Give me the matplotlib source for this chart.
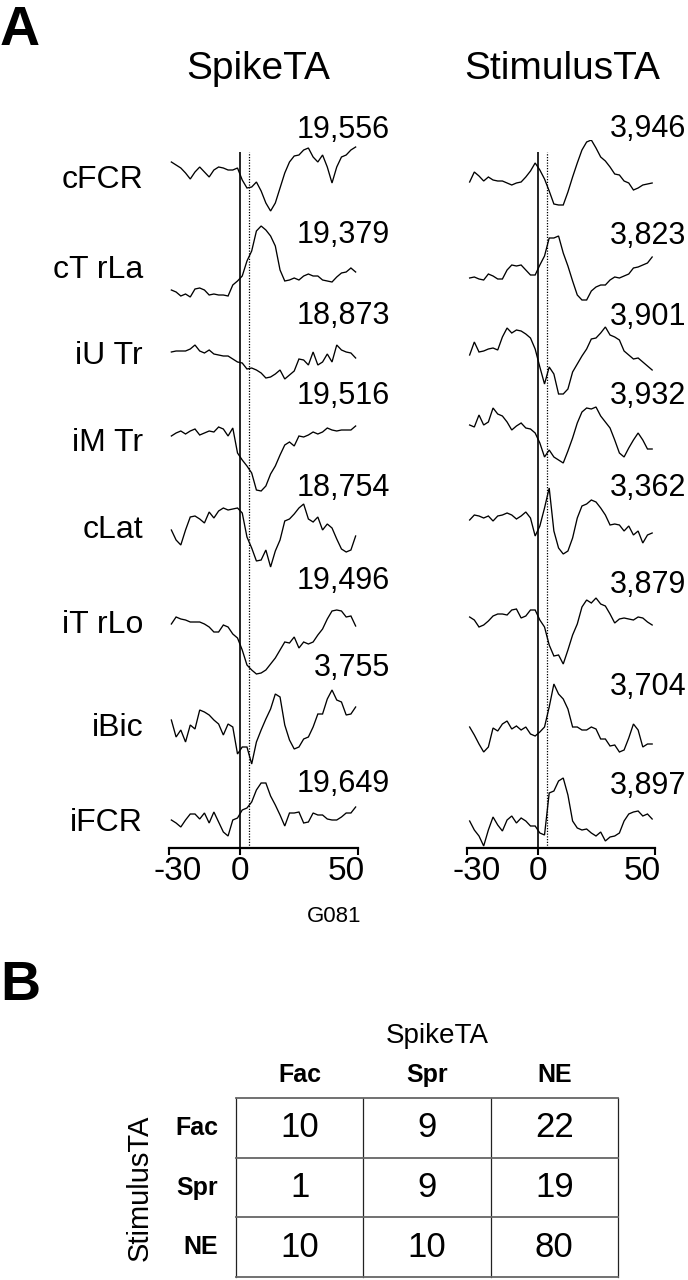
import numpy as np
import matplotlib
matplotlib.use('Agg')
import matplotlib.pyplot as plt
from matplotlib.transforms import ScaledTranslation

plt.rcParams['font.family'] = ['Liberation Sans', 'DejaVu Sans']

# ---------------- data ----------------
muscles = ['cFCR', 'cT rLa', 'iU Tr', 'iM Tr', 'cLat', 'iT rLo', 'iBic', 'iFCR']
spike_counts = ['19,556', '19,379', '18,873', '19,516', '18,754', '19,496', '3,755', '19,649']
stim_counts = ['3,946', '3,823', '3,901', '3,932', '3,362', '3,879', '3,704', '3,897']
time_ms = np.arange(-29, 50, 2)
xticks = [-30, 0, 50]
xtick_labels = ['-30', '0', '50']
onset_ms = 0
latency_ms = 4

# SpikeTA traces (amplitude, arbitrary units)
spike_cFCR = [8, 5, 2, -3, -9, -2, 3, -2, -7, 0, 3, 2, 0, 0, 2, -10, -18, -17, -12, -21,
              -33, -41, -33, -18, -3, 8, 14, 15, 20, 22, 13, 8, 15, 3, -13, 3, 13, 15, 20, 23]
spike_cTrLa = [3, 1, -3, -1, -4, 4, 5, 3, -2, -1, -2, -2, -3, 8, 12, 17, 32, 42, 62, 67,
               63, 57, 47, 23, 12, 13, 15, 13, 17, 19, 17, 17, 13, 12, 11, 16, 20, 21, 25, 21]
spike_iUTr = [0, 1, 1, 1, 3, 7, 1, -1, 2, -2, -3, -4, -4, -7, -10, -11, -17, -16, -18, -21,
              -26, -25, -22, -18, -27, -23, -19, -7, -8, -13, 0, -13, -10, -2, -10, 7, 2, 0, -1, -6]
spike_iMTr = [-3, 0, 2, -1, 2, 4, -2, 0, 2, 1, 6, 4, -3, 5, -20, -27, -33, -40, -57, -58,
              -53, -41, -33, -22, -12, -9, -13, -3, -4, -2, 1, -1, 1, 5, 3, 2, 3, 3, 3, 7]
spike_cLat = [-3, -13, -18, -3, 10, 11, 8, 4, 15, 9, 16, 19, 17, 18, 19, 14, -10, -21, -34, -33,
              -23, -40, -24, -13, 6, 8, 13, 19, 23, 8, 5, 10, -3, 3, -1, -12, -22, -25, -23, -9]
spike_iTrLo = [-2, 5, 3, 2, 0, 0, 0, -2, -5, -10, -10, -3, -5, -12, -16, -28, -43, -48, -52, -51,
               -48, -42, -36, -28, -20, -21, -15, -26, -20, -22, -20, -13, -7, 3, 11, 12, 11, 5, 6, -4]
spike_iBic = [7, -10, -3, -15, 2, -2, 17, 15, 12, 7, 3, -8, 3, 0, -27, -20, -20, -37, -15, -3,
              8, 18, 33, 30, 2, -13, -22, -20, -12, -10, 0, 13, 13, 28, 37, 27, 25, 12, 13, 20]
spike_iFCR = [0, -3, -7, 0, 6, 6, 1, 7, -3, 8, -2, -12, -16, 0, 2, 10, 12, 18, 30, 37,
              37, 24, 15, 5, -6, 7, 7, 8, -3, -2, 7, 5, 5, 1, 0, 0, 3, 7, 7, 13]

# StimulusTA traces
stim_cFCR = [-2, 8, 4, -1, 3, 0, -1, -1, -3, -5, -3, -2, 3, 9, 17, 10, 1, -11, -24, -25,
             -25, -12, 3, 17, 30, 38, 40, 32, 23, 19, 13, 6, 5, -1, -3, -10, -8, -5, -4, -3]
stim_cTrLa = [0, 1, -1, -2, 4, 2, -1, -1, 8, 13, 12, 13, 8, 3, 3, 13, 22, 40, 40, 42,
              25, 12, -3, -17, -22, -22, -13, -9, -7, -7, -2, 1, 0, 2, 4, 10, 11, 13, 15, 21]
stim_iUTr = [-3, 10, 0, 1, 3, 4, 2, 15, 24, 19, 22, 21, 18, 14, 3, -15, -32, -15, -22, -42,
             -42, -37, -20, -12, -4, 3, 13, 14, 19, 25, 17, 15, 12, 1, -3, -7, -6, -10, -14, -18]
stim_iMTr = [0, -2, 10, 0, 3, 17, 11, 9, 3, -5, -1, 2, -3, -4, -8, -18, -32, -25, -32, -35,
             -38, -26, -13, 2, 13, 17, 16, 18, 9, 3, -3, -15, -28, -32, -23, -15, -8, -15, -24, -24]
stim_cLat = [-2, 3, 2, 0, 2, -3, 2, 3, 5, 3, -1, 2, 6, 0, -18, -8, 10, 30, -13, -30,
             -36, -33, -20, 0, 12, 14, 18, 16, 10, 3, -7, -6, -7, -13, -8, -17, -13, -25, -17, -15]
stim_iTrLo = [0, -3, -10, -8, -4, 1, 3, 3, 2, 7, 8, -1, 1, 7, 7, -3, -10, -28, -39, -38,
              -47, -33, -18, -7, 10, 17, 14, 19, 13, 11, 3, -6, -2, -1, -2, -3, 0, -1, -5, -8]
stim_iBic = [5, -3, -12, -20, -15, 4, 1, 8, 11, 3, 6, 2, 5, -2, -4, 0, 5, 25, 48, 38,
             33, 23, 5, 5, 2, 2, 5, 3, -7, -7, -14, -13, -20, -18, -6, 8, 2, -15, -12, -12]
stim_iFCR = [2, -7, -13, -23, -7, 6, -2, -8, 3, 7, 0, 5, 2, -3, -3, -10, -12, 30, 32, 42,
             45, 28, 2, -5, -7, -6, -10, -13, -9, -18, -14, -13, -10, 2, 9, 11, 12, 7, 9, 4]

spike_traces = [spike_cFCR, spike_cTrLa, spike_iUTr, spike_iMTr,
                spike_cLat, spike_iTrLo, spike_iBic, spike_iFCR]
stim_traces = [stim_cFCR, stim_cTrLa, stim_iUTr, stim_iMTr,
               stim_cLat, stim_iTrLo, stim_iBic, stim_iFCR]

# Table B
table_cols = ['Fac', 'Spr', 'NE']
table_rows = ['Fac', 'Spr', 'NE']
table_vals = [[10, 9, 22],
              [1, 9, 19],
              [10, 10, 80]]

# ---------------- layout (pixels) ----------------
W, H = 688, 1280
AX_TOP, AX_BOT = 140, 848
left_base = [170, 293, 352, 433, 527, 622, 727, 820]
right_base = [180, 278, 352, 425, 518, 617, 732, 823]
label_baseline = [188, 278, 364, 451, 538, 633, 736, 831]
spike_num_baseline = [138, 243, 324, 404, 496, 589, 676, 792]
stim_num_baseline = [137, 244, 325, 404, 496, 593, 695, 794]

fig = plt.figure(figsize=(W / 100, H / 100), dpi=100)


def fx(px):
    return px / W


def fy(py):
    return 1 - py / H


def px_axes(x0, x1, y0, y1):
    return fig.add_axes([x0 / W, 1 - y1 / H, (x1 - x0) / W, (y1 - y0) / H])


def trace_panel(x0, x1, traces, bases):
    ax = px_axes(x0, x1, AX_TOP, AX_BOT)
    ax.set_xlim(-30, 50)
    ax.set_ylim(0, AX_BOT - AX_TOP)
    ax.patch.set_visible(False)
    for s in ['top', 'right', 'left']:
        ax.spines[s].set_visible(False)
    ax.spines['bottom'].set_linewidth(1.6)
    ax.spines['bottom'].set_bounds(-30, 50)
    ax.set_yticks([])
    ax.set_xticks(xticks)
    ax.set_xticklabels(xtick_labels)
    ax.tick_params(axis='x', direction='out', length=5, width=1.5,
                   labelsize=24, pad=1)
    for lab, dx in zip(ax.get_xticklabels(), [9, 0, -12]):
        lab.set_transform(lab.get_transform() +
                          ScaledTranslation(dx / 100, 0, fig.dpi_scale_trans))
    top = AX_BOT - 152
    ax.vlines(onset_ms, 0, top, color='black', lw=1.2)
    ax.vlines(latency_ms, 0, top, color='black', lw=0.9, linestyles=(0, (1, 1.2)))
    for amp, base in zip(traces, bases):
        ax.plot(time_ms, (AX_BOT - base) + np.asarray(amp, float),
                color='black', lw=0.95, solid_joinstyle='miter')
    return ax


trace_panel(169, 358, spike_traces, left_base)
trace_panel(467.3, 654.5, stim_traces, right_base)

# Titles and labels
fig.text(fx(0), fy(45), 'A', fontsize=40, fontweight='bold', ha='left', va='baseline')
fig.text(fx(258), fy(79), 'SpikeTA', fontsize=28, ha='center', va='baseline')
fig.text(fx(562), fy(79), 'StimulusTA', fontsize=28, ha='center', va='baseline')

for name, yb in zip(muscles, label_baseline):
    fig.text(fx(143), fy(yb), name, fontsize=23, ha='right', va='baseline')
for cnt, yb in zip(spike_counts, spike_num_baseline):
    fig.text(fx(390), fy(yb), cnt, fontsize=22, ha='right', va='baseline')
for cnt, yb in zip(stim_counts, stim_num_baseline):
    fig.text(fx(686), fy(yb), cnt, fontsize=22, ha='right', va='baseline')

fig.text(fx(334), fy(922), 'G081', fontsize=16, ha='center', va='baseline')

# ---------------- Panel B ----------------
fig.text(fx(0), fy(1000), 'B', fontsize=40, fontweight='bold', ha='left', va='baseline')

tab = px_axes(236, 618, 1098, 1277)
tab.set_xlim(0, 3)
tab.set_ylim(3, 0)
tab.axis('off')
for i in range(4):
    tab.plot([i, i], [0, 3], color='#222222', lw=0.9, clip_on=False)
for j in range(4):
    tab.plot([0, 3], [j, j], color='#666666', lw=1.3, clip_on=False)
for r, row in enumerate(table_vals):
    for c, v in enumerate(row):
        tab.text(c + 0.5, r + 0.5, str(v), fontsize=25, ha='center', va='center')
for c, name in enumerate(table_cols):
    tab.text(c + 0.5, -0.39, name, fontsize=18, ha='center', va='center',
             fontweight='semibold', clip_on=False)
for r, name in enumerate(table_rows):
    tab.text(-0.14, r + 0.5, name, fontsize=18, ha='right', va='center',
             fontweight='semibold', clip_on=False)
tab.text(1.58, -1.04, 'SpikeTA', fontsize=20, ha='center', va='center', clip_on=False)
tab.text(-0.754, 1.51, 'StimulusTA', fontsize=21, rotation=90,
         ha='center', va='center', clip_on=False)

fig.savefig('out.png', dpi=100)
